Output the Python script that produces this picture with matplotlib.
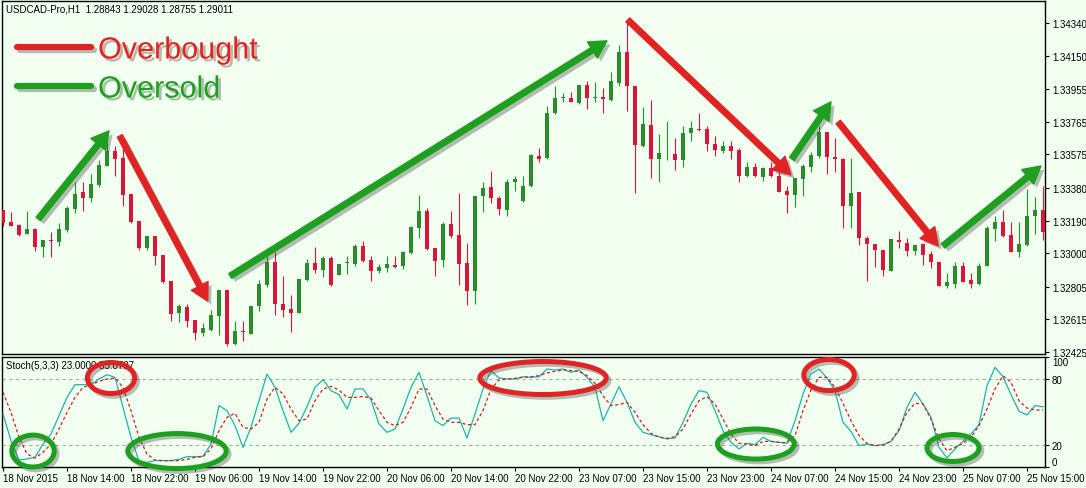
import numpy as np
import matplotlib
matplotlib.use("Agg")
import matplotlib.pyplot as plt
import matplotlib.patheffects as pe
from matplotlib.patches import FancyArrowPatch, Ellipse
from matplotlib.lines import Line2D

plt.rcParams['font.family'] = ['Liberation Sans', 'DejaVu Sans']

# USDCAD H1 candles, 18 Nov 06:00 .. 25 Nov 16:00
opens = [1.33252, 1.33183, 1.33165, 1.33113, 1.33142, 1.33038, 1.33078, 1.33067, 1.33136, 1.33258,
         1.33357, 1.33322, 1.33397, 1.33508, 1.33595, 1.33555, 1.33345, 1.33188, 1.33032, 1.33101,
         1.32991, 1.32840, 1.32653, 1.32687, 1.32612, 1.32536, 1.32554, 1.32635, 1.32788, 1.32472,
         1.32548, 1.32530, 1.32693, 1.32817, 1.32951, 1.32705, 1.32676, 1.32653, 1.32846, 1.32945,
         1.32904, 1.32974, 1.32875, 1.32945, 1.32939, 1.33043, 1.32962, 1.32898, 1.32916, 1.32933,
         1.32927, 1.33003, 1.33148, 1.33246, 1.33032, 1.32962, 1.33171, 1.33107, 1.32945, 1.32782,
         1.33334, 1.33386, 1.33322, 1.33252, 1.33415, 1.33304, 1.33392, 1.33566, 1.33555, 1.33817,
         1.33904, 1.33904, 1.33875, 1.33979, 1.33904, 1.33910, 1.33892, 1.33991, 1.34172, 1.33974,
         1.33625, 1.33747, 1.33549, 1.33575, 1.33578, 1.33543, 1.33700, 1.33726, 1.33723, 1.33636,
         1.33595, 1.33625, 1.33601, 1.33450, 1.33502, 1.33444, 1.33496, 1.33450, 1.33363, 1.33339,
         1.33432, 1.33502, 1.33566, 1.33706, 1.33560, 1.33549, 1.33275, 1.33357, 1.33090, 1.33055,
         1.33020, 1.32898, 1.33078, 1.33061, 1.33014, 1.33055, 1.32997, 1.32951, 1.32811, 1.32823,
         1.32927, 1.32846, 1.32823, 1.32927, 1.33142, 1.33183, 1.33107, 1.33009, 1.33049, 1.33217,
         1.33252]
highs = [1.33252, 1.33240, 1.33171, 1.33246, 1.33148, 1.33078, 1.33124, 1.33177, 1.33275, 1.33415,
         1.33415, 1.33462, 1.33543, 1.33665, 1.33625, 1.33625, 1.33345, 1.33188, 1.33101, 1.33101,
         1.32991, 1.32840, 1.32705, 1.32705, 1.32612, 1.32594, 1.32670, 1.32788, 1.32788, 1.32606,
         1.32606, 1.32693, 1.32846, 1.32997, 1.33009, 1.32869, 1.32757, 1.32852, 1.32968, 1.33038,
         1.32985, 1.32985, 1.32939, 1.32985, 1.33055, 1.33072, 1.32985, 1.32939, 1.32985, 1.32985,
         1.33014, 1.33159, 1.33339, 1.33264, 1.33032, 1.33183, 1.33246, 1.33351, 1.33061, 1.33334,
         1.33415, 1.33479, 1.33334, 1.33432, 1.33450, 1.33450, 1.33578, 1.33613, 1.33857, 1.33974,
         1.33933, 1.33939, 1.33979, 1.34003, 1.33997, 1.33962, 1.34055, 1.34212, 1.34358, 1.33974,
         1.33851, 1.33892, 1.33694, 1.33770, 1.33671, 1.33741, 1.33770, 1.33817, 1.33741, 1.33683,
         1.33654, 1.33654, 1.33613, 1.33531, 1.33526, 1.33502, 1.33531, 1.33473, 1.33392, 1.33438,
         1.33520, 1.33590, 1.33741, 1.33706, 1.33671, 1.33555, 1.33555, 1.33357, 1.33101, 1.33055,
         1.33020, 1.33084, 1.33130, 1.33090, 1.33049, 1.33061, 1.33014, 1.32951, 1.32887, 1.32951,
         1.32951, 1.32887, 1.32945, 1.33159, 1.33217, 1.33252, 1.33183, 1.33183, 1.33374, 1.33328,
         1.33392]
lows = [1.33159, 1.33159, 1.33101, 1.33113, 1.33014, 1.32980, 1.32980, 1.33043, 1.33124, 1.33235,
        1.33246, 1.33299, 1.33386, 1.33508, 1.33450, 1.33275, 1.33177, 1.33020, 1.33020, 1.32933,
        1.32829, 1.32606, 1.32601, 1.32571, 1.32495, 1.32519, 1.32548, 1.32524, 1.32461, 1.32466,
        1.32490, 1.32530, 1.32664, 1.32806, 1.32641, 1.32629, 1.32542, 1.32653, 1.32840, 1.32887,
        1.32864, 1.32811, 1.32875, 1.32881, 1.32927, 1.32951, 1.32840, 1.32887, 1.32893, 1.32916,
        1.32910, 1.32997, 1.33090, 1.33020, 1.32869, 1.32922, 1.33090, 1.32817, 1.32699, 1.32705,
        1.33240, 1.33293, 1.33223, 1.33217, 1.33363, 1.33299, 1.33386, 1.33531, 1.33549, 1.33811,
        1.33881, 1.33881, 1.33869, 1.33840, 1.33881, 1.33817, 1.33886, 1.33974, 1.33828, 1.33351,
        1.33619, 1.33438, 1.33415, 1.33543, 1.33485, 1.33502, 1.33654, 1.33712, 1.33595, 1.33566,
        1.33584, 1.33549, 1.33415, 1.33444, 1.33444, 1.33421, 1.33444, 1.33357, 1.33235, 1.33270,
        1.33334, 1.33473, 1.33555, 1.33462, 1.33473, 1.33148, 1.33148, 1.33049, 1.32840, 1.32922,
        1.32869, 1.32898, 1.33032, 1.32985, 1.32991, 1.32933, 1.32916, 1.32811, 1.32800, 1.32800,
        1.32835, 1.32800, 1.32817, 1.32927, 1.33072, 1.33096, 1.33009, 1.32980, 1.33043, 1.33113,
        1.33078]
closes = [1.33177, 1.33159, 1.33107, 1.33142, 1.33038, 1.33078, 1.33072, 1.33142, 1.33264, 1.33345,
          1.33322, 1.33403, 1.33514, 1.33595, 1.33549, 1.33339, 1.33183, 1.33032, 1.33101, 1.32985,
          1.32835, 1.32647, 1.32693, 1.32606, 1.32536, 1.32565, 1.32641, 1.32788, 1.32472, 1.32548,
          1.32542, 1.32693, 1.32823, 1.32951, 1.32705, 1.32670, 1.32653, 1.32852, 1.32945, 1.32904,
          1.32974, 1.32817, 1.32939, 1.32951, 1.33043, 1.32956, 1.32898, 1.32922, 1.32939, 1.32922,
          1.33009, 1.33153, 1.33246, 1.33026, 1.32956, 1.33171, 1.33101, 1.32939, 1.32782, 1.33334,
          1.33380, 1.33322, 1.33258, 1.33415, 1.33432, 1.33392, 1.33572, 1.33549, 1.33817, 1.33904,
          1.33907, 1.33881, 1.33979, 1.33904, 1.33904, 1.33898, 1.34003, 1.34172, 1.33974, 1.33630,
          1.33752, 1.33549, 1.33584, 1.33578, 1.33543, 1.33700, 1.33729, 1.33720, 1.33636, 1.33601,
          1.33625, 1.33595, 1.33450, 1.33502, 1.33450, 1.33496, 1.33450, 1.33357, 1.33339, 1.33438,
          1.33508, 1.33572, 1.33706, 1.33560, 1.33549, 1.33275, 1.33351, 1.33090, 1.33055, 1.33020,
          1.32904, 1.33084, 1.33067, 1.33014, 1.33049, 1.32991, 1.32951, 1.32811, 1.32835, 1.32927,
          1.32835, 1.32823, 1.32927, 1.33148, 1.33183, 1.33101, 1.33009, 1.33055, 1.33217, 1.33252,
          1.33124]

# Stochastic (5,3,3): main line and signal line
stoch_main = [48.2, 23.9, 6.4, 7.3, 8.8, 20.9, 30.0, 46.7, 63.3, 74.8,
              74.8, 74.8, 80.0, 83.9, 81.5, 54.2, 27.0, 5.2, 4.2, 5.8,
              5.8, 5.8, 7.0, 9.4, 9.4, 9.7, 20.9, 55.8, 51.2, 37.6,
              17.9, 36.1, 60.3, 84.5, 72.4, 51.2, 31.5, 39.7, 54.8, 72.4,
              79.4, 69.4, 65.8, 52.7, 70.9, 70.9, 60.9, 39.1, 31.5, 34.5,
              52.7, 72.4, 86.1, 64.8, 42.1, 37.6, 44.5, 44.5, 26.4, 48.2,
              70.9, 87.6, 80.9, 80.0, 80.0, 82.1, 81.5, 82.1, 89.1, 88.2,
              89.1, 86.1, 88.2, 81.5, 72.4, 42.1, 57.3, 73.0, 58.8, 40.6,
              31.5, 29.4, 27.6, 25.5, 26.4, 40.6, 57.3, 69.4, 67.9, 51.2,
              33.0, 22.4, 16.4, 21.5, 20.3, 27.0, 23.3, 22.4, 21.5, 42.1,
              66.4, 84.5, 89.1, 80.9, 69.4, 40.6, 32.4, 19.4, 20.9, 19.4,
              20.3, 23.3, 33.0, 54.2, 67.9, 57.3, 45.2, 17.9, 8.2, 16.4,
              23.3, 30.0, 38.5, 73.9, 90.6, 82.1, 65.8, 50.6, 47.3, 55.8,
              54.8]
stoch_signal = [67.9, 49.7, 27.0, 11.8, 8.2, 13.3, 20.9, 34.5, 49.7, 63.3,
                72.4, 74.8, 77.9, 80.0, 80.9, 72.4, 51.2, 27.0, 11.8, 6.4,
                5.8, 5.8, 5.8, 7.0, 8.8, 9.4, 16.4, 33.0, 45.2, 48.8,
                36.1, 34.5, 40.6, 61.8, 72.4, 66.4, 52.7, 42.1, 43.6, 60.3,
                70.9, 73.3, 70.0, 63.3, 63.3, 64.2, 62.7, 51.2, 40.6, 37.6,
                40.6, 54.2, 70.9, 70.9, 55.8, 43.6, 40.6, 40.6, 38.5, 38.5,
                51.2, 70.9, 79.1, 80.0, 80.6, 81.5, 82.1, 83.0, 85.5, 87.0,
                88.2, 87.6, 87.0, 83.0, 76.1, 64.8, 55.8, 56.7, 58.8, 49.7,
                38.5, 30.6, 27.0, 26.1, 27.6, 34.5, 48.2, 60.3, 63.9, 57.3,
                43.6, 30.0, 21.5, 20.9, 19.4, 23.3, 23.3, 22.4, 22.1, 28.5,
                51.2, 70.0, 81.5, 81.5, 72.4, 57.9, 42.1, 28.5, 21.5, 19.4,
                20.0, 23.3, 34.5, 49.7, 57.9, 57.3, 43.6, 25.5, 14.8, 17.9,
                21.5, 27.0, 37.6, 52.7, 70.9, 83.0, 77.0, 60.3, 53.6, 51.8,
                51.8]

price_ticks = [1.34340, 1.34150, 1.33955, 1.33765, 1.33575, 1.33380,
               1.33190, 1.33000, 1.32805, 1.32615, 1.32425]
date_labels = ["18 Nov 2015", "18 Nov 14:00", "18 Nov 22:00", "19 Nov 06:00",
               "19 Nov 14:00", "19 Nov 22:00", "20 Nov 06:00", "20 Nov 14:00",
               "20 Nov 22:00", "23 Nov 07:00", "23 Nov 15:00", "23 Nov 23:00",
               "24 Nov 07:00", "24 Nov 15:00", "24 Nov 23:00", "25 Nov 07:00",
               "25 Nov 15:00"]

# annotation arrows (bar index, price) tail -> head
green_arrows = [((4.4, 1.33200), (13.25, 1.33712)), ((28.4, 1.32868), (75.5, 1.34236)),
                ((98.6, 1.33549), (103.5, 1.33881)), ((117.5, 1.33043), (129.75, 1.33508))]
red_arrows = [((14.6, 1.33683), (25.6, 1.32722)), ((78.1, 1.34358), (98.5, 1.33456)),
              ((104.4, 1.33764), (116.9, 1.33043))]
# circled zones on the oscillator: (bar, value, width, height)
green_zones = [(3.75, 14.5, 5.3, 29), (21.75, 14.5, 12.3, 31.8),
               (94.1, 20.9, 9.6, 27.3), (118.75, 17.3, 6.5, 24.5)]
red_zones = [(13.5, 80.9, 5.9, 28.2), (67.5, 80.9, 15.8, 30), (103.25, 83.6, 6.3, 28.2)]

BG = '#f0fff0'
BULL = '#2a8c2a'
BEAR = '#dc143c'
ARROW_GREEN = '#1f9f1f'
ARROW_RED = '#e02424'

fig = plt.figure(figsize=(10.86, 4.89), dpi=100, facecolor=BG)
ax = fig.add_axes([2/1086, 134/489, 1043/1086, 353/489], facecolor=BG)
ax2 = fig.add_axes([2/1086, 21/489, 1043/1086, 110/489], facecolor=BG)

o = np.array(opens); h = np.array(highs); l = np.array(lows); c = np.array(closes)
x = np.arange(len(o))
up = c >= o
cols = np.where(up, BULL, BEAR)
ax.vlines(x, l, h, colors=cols, linewidth=0.8, zorder=2)
body = np.maximum(np.abs(c - o), 0.00005)
ax.bar(x, body, bottom=np.minimum(o, c), width=0.62, color=cols, linewidth=0, zorder=3)

ax.set_xlim(-0.125, 130.25)
ax.set_ylim(1.32414, 1.34468)
ax.yaxis.tick_right()
ax.set_yticks(price_ticks)
ax.set_yticklabels([f"{v:.5f}" for v in price_ticks])
ax.tick_params(axis='y', direction='out', length=3, width=0.8, labelsize=7, pad=2)
ax.set_xticks([])
for s in ax.spines.values():
    s.set_color('black'); s.set_linewidth(1)

shadow = [pe.SimplePatchShadow(offset=(2.5, -2.5), shadow_rgbFace='#404040', alpha=0.35), pe.Normal()]
arrow_style = 'simple,head_length=0.62,head_width=0.68,tail_width=0.2'
for arrows, col in ((green_arrows, ARROW_GREEN), (red_arrows, ARROW_RED)):
    for tail, tip in arrows:
        a = FancyArrowPatch(tail, tip, arrowstyle=arrow_style, mutation_scale=20,
                            color=col, shrinkA=0, shrinkB=0, zorder=6, clip_on=False)
        a.set_path_effects(shadow)
        ax.add_patch(a)

# oscillator panel
ax2.plot(x, stoch_main, color='#20b2aa', linewidth=0.9, zorder=3)
ax2.plot(x, stoch_signal, color='#cc2020', linewidth=0.9, linestyle=(0, (2.5, 2)), zorder=3)
for lv in (20, 80):
    ax2.axhline(lv, color='#a8a8a8', linewidth=0.8, linestyle=(0, (3, 3)), zorder=1)
ax2.set_xlim(-0.125, 130.25)
ax2.set_ylim(0, 100)
ax2.yaxis.tick_right()
ax2.set_yticks([0, 20, 80, 100])
ax2.set_yticklabels(['0', '20', '80', '100'])
ax2.tick_params(axis='y', direction='out', length=3, width=0.8, labelsize=7, pad=2)
ylabs = ax2.get_yticklabels()
ylabs[0].set_verticalalignment('bottom')
ylabs[3].set_verticalalignment('top')
ax2.set_xticks(np.arange(0, 129, 8))
ax2.set_xticklabels(date_labels, ha='left')
ax2.tick_params(axis='x', direction='out', length=3, width=0.8, labelsize=7, pad=1.5)
for s in ax2.spines.values():
    s.set_color('black'); s.set_linewidth(1)
ax2.text(0.004, 0.93, "Stoch(5,3,3) 23.0000 55.8707", transform=ax2.transAxes,
         fontsize=7, va='center', ha='left', zorder=4)

eshadow = [pe.SimpleLineShadow(offset=(2, -2), shadow_color='#404040', alpha=0.35), pe.Normal()]
for zones, col in ((green_zones, ARROW_GREEN), (red_zones, ARROW_RED)):
    for cx, cy, w, hh in zones:
        e = Ellipse((cx, cy), w, hh, fill=False, edgecolor=col, linewidth=3.6,
                    clip_on=False, zorder=6)
        e.set_path_effects(eshadow)
        ax2.add_patch(e)

# header and legend
fig.text(6/1086, 1 - 10/489, "USDCAD-Pro,H1  1.28843 1.29028 1.28755 1.29011",
         fontsize=7, va='center', ha='left')
for yy, col, label in ((1 - 48/489, ARROW_RED, "Overbought"), (1 - 87/489, ARROW_GREEN, "Oversold")):
    ln = Line2D([17/1086, 91/1086], [yy, yy], transform=fig.transFigure, color=col,
                linewidth=4.5, solid_capstyle='round', path_effects=eshadow)
    fig.add_artist(ln)
    fig.text(98/1086, yy, label, fontsize=22, color=col, va='center_baseline', ha='left',
             path_effects=[pe.withSimplePatchShadow(offset=(2, -2), alpha=0.3)])

fig.savefig('out.png', dpi=100, facecolor=BG)
